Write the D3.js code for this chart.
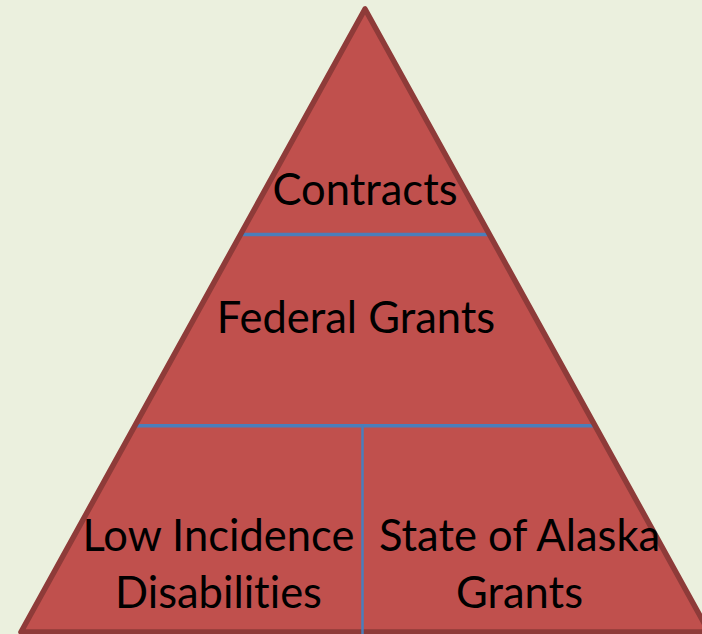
<!DOCTYPE html>
<html>
<head>
<meta charset="utf-8">
<script src="https://cdn.jsdelivr.net/npm/d3@7"></script>
<style>
  body { margin: 0; background: #ebf0de; }
  text { font-family: Lato, "Open Sans", sans-serif; fill: #000; font-variant-ligatures: none; }
</style>
</head>
<body>
<script>
// pyramid tiers, top to bottom
var tierLabels = ["Contracts", "Federal Grants"];
var baseLabels = [["Low Incidence", "Disabilities"], ["State of Alaska", "Grants"]];
// where the divider lines sit, as a share of the pyramid height from the apex
var tierBreaks = [0.362, 0.669];

var svg_width = 702;
var svg_height = 634;
var apex = [365, 9];
var baseY = 632;
var halfBase = 344;
var fontSize = 43.5;

const svg = d3.select('body')
    .append('svg')
    .attr("width", svg_width)
    .attr("height", svg_height);

svg.append('rect')
    .attr('width', svg_width)
    .attr('height', svg_height)
    .attr('fill', '#ebf0de');

// share of height -> pixel y, and half width of the pyramid at that level
const y = d3.scaleLinear().domain([0, 1]).range([apex[1], baseY]);
const half = d3.scaleLinear().domain([0, 1]).range([0, halfBase]);

const outline = d3.path();
outline.moveTo(apex[0], apex[1]);
outline.lineTo(apex[0] - half(1), y(1));
outline.lineTo(apex[0] + half(1), y(1));
outline.closePath();

svg.append('path')
    .attr('d', outline.toString())
    .attr('fill', '#c0504d');

// horizontal dividers
svg.selectAll('.divider')
    .data(tierBreaks)
    .enter().append('line')
    .attr('class', 'divider')
    .attr('x1', d => apex[0] - half(d))
    .attr('x2', d => apex[0] + half(d))
    .attr('y1', d => y(d))
    .attr('y2', d => y(d))
    .attr('stroke', '#4a7ebb')
    .attr('stroke-width', 3.5);

// border on top so the dividers stop at it
svg.append('path')
    .attr('d', outline.toString())
    .attr('fill', 'none')
    .attr('stroke', '#8e3b39')
    .attr('stroke-width', 5.5)
    .attr('stroke-linejoin', 'round');

// vertical split of the bottom tier
svg.append('line')
    .attr('x1', 362.5).attr('x2', 362.5)
    .attr('y1', y(tierBreaks[1])).attr('y2', svg_height)
    .attr('stroke', '#4a7ebb')
    .attr('stroke-width', 2.5);

// tier labels
var tierPos = [[365, 0.315], [356, 0.52]];
svg.selectAll('.tier')
    .data(tierLabels)
    .enter().append('text')
    .attr('class', 'tier')
    .attr('x', (d, i) => tierPos[i][0])
    .attr('y', (d, i) => y(tierPos[i][1]))
    .attr('text-anchor', 'middle')
    .attr('font-size', fontSize)
    .text(d => d);

// bottom tier, two boxes
var baseX = [218.5, 519.5];
svg.selectAll('.base')
    .data(baseLabels)
    .enter().append('text')
    .attr('class', 'base')
    .attr('text-anchor', 'middle')
    .attr('font-size', fontSize)
    .each(function (d, i) {
        d3.select(this).selectAll('tspan')
            .data(d)
            .enter().append('tspan')
            .attr('x', baseX[i])
            .attr('y', (t, j) => 551 + j * 57)
            .text(t => t);
    });
</script>
</body>
</html>
